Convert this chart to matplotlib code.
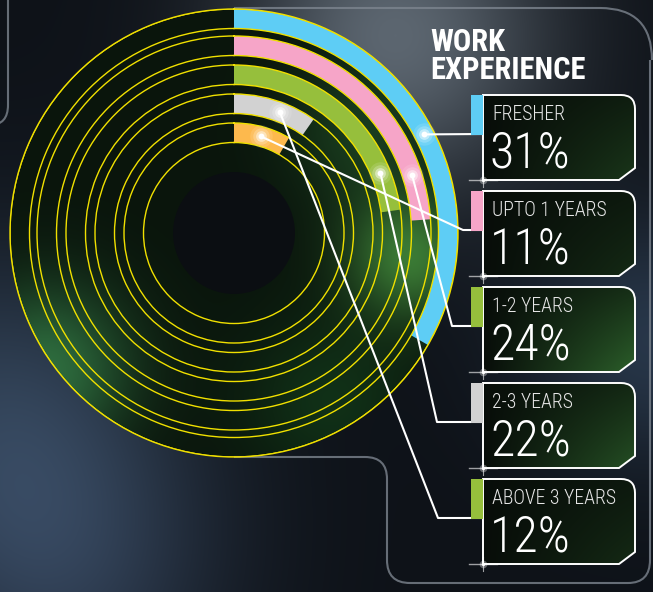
"""
Work experience radial-bar infographic, recreated with matplotlib.
"""

import matplotlib
matplotlib.use("Agg")
import matplotlib.pyplot as plt
import numpy as np
from matplotlib import font_manager
from matplotlib.patches import Circle, PathPatch, Rectangle
from matplotlib.path import Path

# ---------------------------------------------------------------------------
# Data
# ---------------------------------------------------------------------------

CATEGORIES = ["FRESHER", "UPTO 1 YEARS", "1-2 YEARS", "2-3 YEARS", "ABOVE 3 YEARS"]
PERCENTS = [31, 11, 24, 22, 12]
ARC_DEG = [120, 86, 82, 35, 30]          # sweep of each ring as drawn (outer -> inner)
RING_COLORS = ["#5ecdf5", "#f6a5c8", "#96bf3c", "#d2d2d2", "#fdb94d"]
TAB_COLORS = ["#5ecdf5", "#f6a5c8", "#96bf3c", "#d2d2d2", "#96bf3c"]
LEADER_BOX = [0, 2, 3, 4, 1]             # ring i is wired to box LEADER_BOX[i]

# ---------------------------------------------------------------------------
# Layout (pixels, y down)
# ---------------------------------------------------------------------------

W, H = 653, 592
CX, CY, R_MAX = 234, 233, 224
RING_OUT = [224, 197, 168, 139, 110]
RING_W = 19.5
DOT_DEG = [62.6, 72, 67.7, 20.8, 15.6]
BOX_X0, BOX_X1 = 483, 635
BOX_TOP0, BOX_STEP, BOX_H = 95, 96, 85
ELBOW_X = [None, 463, 452, 437, 438]

YELLOW = "#f0e000"
LINE_GREY = "#7d858f"

names = {f.name for f in font_manager.fontManager.ttflist}
CONDENSED = [n for n in ("Liberation Sans Narrow", "Roboto Condensed",
                         "Open Sans Condensed", "Noto Sans Condensed") if n in names]
if CONDENSED:
    FONT = CONDENSED[0]
    FS_LABEL, FS_PCT, FS_TITLE = 14.2, 36, 22
else:
    FONT = "Roboto"
    FS_LABEL, FS_PCT, FS_TITLE = 12, 32.5, 21
FAMILY = [FONT, "DejaVu Sans"]


def blobs(shape, base, spots):
    h, w = shape
    yy, xx = np.mgrid[0:h, 0:w]
    img = np.ones((h, w, 3)) * np.array(base) / 255.0
    for (x, y, s, col, k) in spots:
        g = k * np.exp(-((xx - x) ** 2 + (yy - y) ** 2) / (2 * s ** 2))
        img += g[..., None] * (np.array(col) / 255.0 - np.array(base) / 255.0)
    return np.clip(img, 0, 1)


fig = plt.figure(figsize=(W / 100, H / 100), dpi=100)
fig.patch.set_facecolor("#0f131a")

# ---- background --------------------------------------------------------------
ax_bg = fig.add_axes([0, 0, 1, 1], zorder=0)
ax_bg.set_xlim(0, W)
ax_bg.set_ylim(H, 0)
ax_bg.axis("off")

bg = blobs((H, W), (14, 18, 24), [
    (395, 35, 110, (92, 102, 112), 1.0),
    (0, 430, 130, (48, 64, 84), 1.0),
    (70, 590, 110, (40, 52, 70), 0.8),
    (650, 340, 90, (42, 58, 78), 0.9),
])
ax_bg.imshow(bg, extent=(0, W, H, 0), zorder=0, interpolation="bilinear")

disk = blobs((H, W), (10, 21, 12), [
    (45, 370, 60, (46, 108, 62), 1.0),
    (410, 255, 45, (58, 120, 52), 1.0),
    (365, 125, 55, (35, 85, 42), 0.6),
    (330, 400, 60, (18, 55, 26), 0.8),
])
im = ax_bg.imshow(disk, extent=(0, W, H, 0), zorder=1, interpolation="bilinear")
im.set_clip_path(Circle((CX, CY), R_MAX, transform=ax_bg.transData))
ax_bg.add_patch(Circle((CX, CY), 61, color="#0b0e12", zorder=2, lw=0))

# decorative panel outlines
def outline(verts, codes):
    ax_bg.add_patch(PathPatch(Path(verts, codes), fill=False, ec=LINE_GREY,
                              lw=1.5, alpha=0.8, zorder=1.5))

M, L, C = Path.MOVETO, Path.LINETO, Path.CURVE3
outline([(234, 8), (600, 8), (652, 8), (652, 60)], [M, L, C, C])
outline([(8, 0), (8, 105), (8, 125), (-10, 125)], [M, L, C, C])
outline([(234, 457), (365, 457), (387, 457), (387, 479), (387, 560),
         (387, 583), (410, 583), (628, 583), (650, 583), (650, 560), (650, 60)],
        [M, L, C, C, L, C, C, L, C, C, L])

# ---- rings -------------------------------------------------------------------
ax_p = fig.add_axes([(CX - R_MAX) / W, (H - CY - R_MAX) / H, 2 * R_MAX / W, 2 * R_MAX / H],
                    projection="polar", zorder=1)
ax_p.patch.set_alpha(0)
ax_p.set_theta_zero_location("N")
ax_p.set_theta_direction(-1)
ax_p.set_rlim(0, R_MAX)

for r_out, sweep, col in zip(RING_OUT, ARC_DEG, RING_COLORS):
    ax_p.bar(0, RING_W, width=np.deg2rad(sweep), bottom=r_out - RING_W,
             align="edge", color=col, lw=0)

radii = sorted(RING_OUT + [r - RING_W for r in RING_OUT])
ax_p.set_rticks(radii)
ax_p.set_yticklabels([])
ax_p.set_xticks([])
ax_p.yaxis.grid(True, color=YELLOW, lw=1.0)
ax_p.spines["polar"].set_color(YELLOW)
ax_p.spines["polar"].set_linewidth(1.0)

# ---- overlay: leaders, boxes, text ------------------------------------------
ax_o = fig.add_axes([0, 0, 1, 1], zorder=3)
ax_o.set_xlim(0, W)
ax_o.set_ylim(H, 0)
ax_o.axis("off")
ax_o.patch.set_alpha(0)

fig.canvas.draw()
to_ov = ax_o.transData.inverted()

box_grad = np.linspace(0, 1, 160)[None, :] * np.linspace(0.4, 1, 90)[:, None]
GREEN_K = [0.5, 0.35, 1.0, 0.8, 0.35]

for i, (cat, pct, tab) in enumerate(zip(CATEGORIES, PERCENTS, TAB_COLORS)):
    y0 = BOX_TOP0 + i * BOX_STEP
    y1 = y0 + BOX_H
    x0, x1 = BOX_X0, BOX_X1
    verts = [(x0, y0), (x1 - 14, y0), (x1, y0), (x1, y0 + 14), (x1, y1 - 12),
             (x1 - 16, y1), (x0, y1), (x0, y0)]
    codes = [M, L, C, C, L, L, L, Path.CLOSEPOLY]
    path = Path(verts, codes)
    k = GREEN_K[i]
    fill = np.dstack([0.03 + 0.14 * k * box_grad, 0.05 + 0.32 * k * box_grad,
                      0.035 + 0.13 * k * box_grad])
    bim = ax_o.imshow(np.clip(fill, 0, 1), extent=(x0, x1, y1, y0), zorder=1,
                      interpolation="bilinear")
    bim.set_clip_path(PathPatch(path, transform=ax_o.transData))
    ax_o.add_patch(PathPatch(path, fill=False, ec="white", lw=1.4, zorder=3))
    ax_o.add_patch(Rectangle((x0 - 12, y0), 12, 40, color=tab, lw=0, zorder=4))
    ax_o.text(x0 + 9, y0 + 24.5, cat, fontsize=FS_LABEL, family=FAMILY,
              fontweight="light", color="#e6e6e6", va="baseline", ha="left", zorder=5)
    ax_o.text(x0 + 7, y0 + 73, f"{pct}%", fontsize=FS_PCT, family=FAMILY,
              fontweight="light", color="white", va="baseline", ha="left", zorder=5)
    # corner sparkle
    ax_o.plot([x0 - 14, x0 + 14], [y1, y1], color="white", lw=1.0, alpha=0.6, zorder=5)
    ax_o.plot([x0, x0], [y1 - 7, y1 + 7], color="white", lw=0.8, alpha=0.6, zorder=5)
    ax_o.scatter([x0], [y1], s=30, color="white", alpha=0.35, lw=0, zorder=5)
    ax_o.scatter([x0], [y1], s=6, color="white", lw=0, zorder=5)

for i, (r_out, deg) in enumerate(zip(RING_OUT, DOT_DEG)):
    disp = ax_p.transData.transform((np.deg2rad(deg), r_out - RING_W / 2))
    dx, dy = to_ov.transform(disp)
    b = LEADER_BOX[i]
    ty = BOX_TOP0 + b * BOX_STEP + 39
    if ELBOW_X[b] is None:
        xs, ys = [dx, BOX_X0], [dy, ty]
    else:
        xs, ys = [dx, ELBOW_X[b], BOX_X0], [dy, ty, ty]
    ax_o.plot(xs, ys, color="white", lw=1.5, zorder=2, solid_capstyle="butt")
    for s, a in [(260, 0.12), (140, 0.22), (60, 0.45), (18, 1.0)]:
        ax_o.scatter([dx], [dy], s=s, color="white", alpha=a, lw=0, zorder=6)

# title: va="baseline" on a two-line text pins the last line's baseline
ax_o.text(430, 79, "WORK\nEXPERIENCE", fontsize=FS_TITLE, fontweight="bold",
          family=FAMILY, color="white", va="baseline", ha="left", linespacing=0.93)

fig.savefig("out.png", dpi=100, facecolor=fig.get_facecolor())
